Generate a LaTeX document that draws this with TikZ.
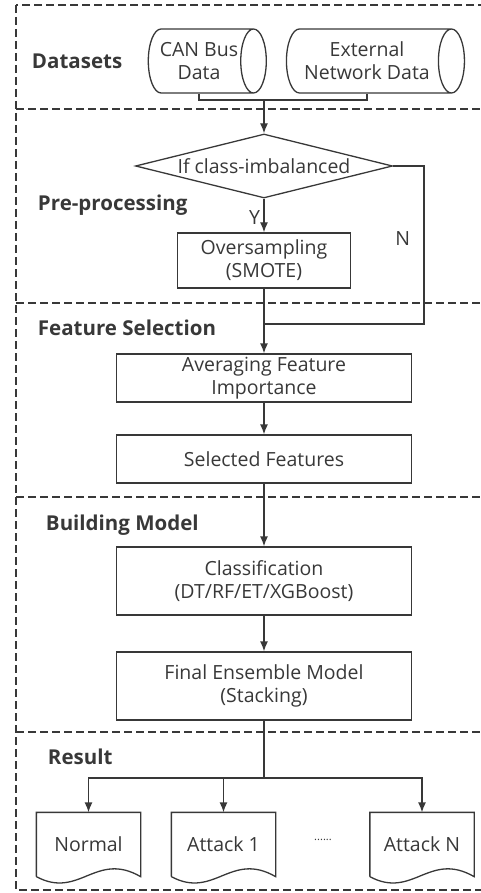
\documentclass[tikz,border=0pt]{standalone}
\usepackage{fontspec}
\setmainfont{Open Sans}
\usepackage{xcolor}
\usepackage{tikz}
\usetikzlibrary{shapes,arrows.meta,positioning}

\definecolor{ink}{HTML}{383838}

\begin{document}
\begin{tikzpicture}[x=1pt, y=-1pt, node distance=80pt, auto, color=ink, line width=1.3pt,
    font=\fontsize{19.5}{23}\selectfont]
  \tikzstyle{block} = [rectangle, draw, minimum width=295pt, align=center, inner sep=2pt]
  \tikzstyle{line} = [draw, -{Latex[length=10pt,width=8pt]}]
  \tikzstyle{store} = [cylinder, draw, aspect=0.65, align=center, minimum width=64pt, inner sep=1pt]
  \tikzstyle{choice} = [diamond, draw, aspect=4, minimum width=257pt, minimum height=64pt, inner sep=0pt]
  \tikzstyle{doc} = [rectangle, minimum width=103pt, minimum height=63pt]
  \tikzstyle{stage} = [anchor=west, font=\fontsize{20.5}{24}\selectfont\bfseries]
  \tikzstyle{frame} = [draw, dashed, dash pattern=on 8pt off 4pt, line width=1.1pt]

  \useasboundingbox (0,0) rectangle (481,893);
  \clip (0,0) rectangle (481,893);

  % stages
  \draw [frame] (16,5) rectangle (500,890);
  \foreach \y in {109,303,497,732}
    \draw [frame] (16,\y) -- (500,\y);
  \node [stage] (datasets) at (28,61) {Datasets};
  \node [stage] (prep) at (34,205) {Pre-processing};
  \node [stage] (fsel) at (34,328) {Feature Selection};
  \node [stage] (build) at (42,525) {Building Model};
  \node [stage] (result) at (44,757) {Result};

  % data sources
  \node [store, minimum height=118pt] (canbus) at (199,61) {CAN Bus\\Data};
  \node [store, minimum height=178pt] (extnet) at (367,61) {External\\Network Data};

  % main flow
  \node [choice] (imbal) at (264,166) {If class-imbalanced};
  \node [block, minimum width=173pt, minimum height=55pt, below of=imbal, node distance=94.5pt] (smote) {Oversampling\\(SMOTE)};
  \node [block, minimum height=48pt, below of=smote, node distance=117.5pt] (avgimp) {Averaging Feature\\Importance};
  \node [block, minimum height=48pt, below of=avgimp, node distance=81pt] (selfeat) {Selected Features};
  \node [block, minimum height=68pt, below of=selfeat, node distance=122pt] (classify) {Classification\\(DT/RF/ET/XGBoost)};
  \node [block, minimum height=68pt, below of=classify, node distance=105pt] (ensemble) {Final Ensemble Model\\(Stacking)};

  % outputs
  \node [doc] (normal) at (88.5,844.5) {Normal};
  \node [doc] (attack1) at (223.5,844.5) {Attack 1};
  \node [doc] (attackn) at (422,844.5) {Attack N};
  \node [font=\fontsize{11}{12}\selectfont] (dots) at (323,840) {......};
  \foreach \n in {normal,attack1,attackn}
    \draw (\n.south west) -- (\n.north west) -- (\n.north east) -- (\n.south east)
      .. controls +(-45,-26) and +(43,23) .. (\n.south west);

  \coordinate (join) at (264,100);
  \coordinate (nturn) at (424,324);
  \coordinate (merge) at (264,324);
  \coordinate (split) at (264,778);

  \draw (canbus.south) |- (join) -| (extnet.south);
  \path [line] (join) -- (imbal);
  \path [line] (imbal) -- node [left, pos=0.55] {Y} (smote);
  \draw (imbal.east) -| node [pos=0.73, left=10pt] {N} (nturn) -- (merge);
  \path [line] (smote) -- (avgimp);
  \path [line] (avgimp) -- (selfeat);
  \path [line] (selfeat) -- (classify);
  \path [line] (classify) -- (ensemble);
  \draw (ensemble) -- (split);
  \path [line] (split) -| (normal);
  \path [line] (split) -| (attack1);
  \path [line] (split) -| (attackn);
\end{tikzpicture}
\end{document}
